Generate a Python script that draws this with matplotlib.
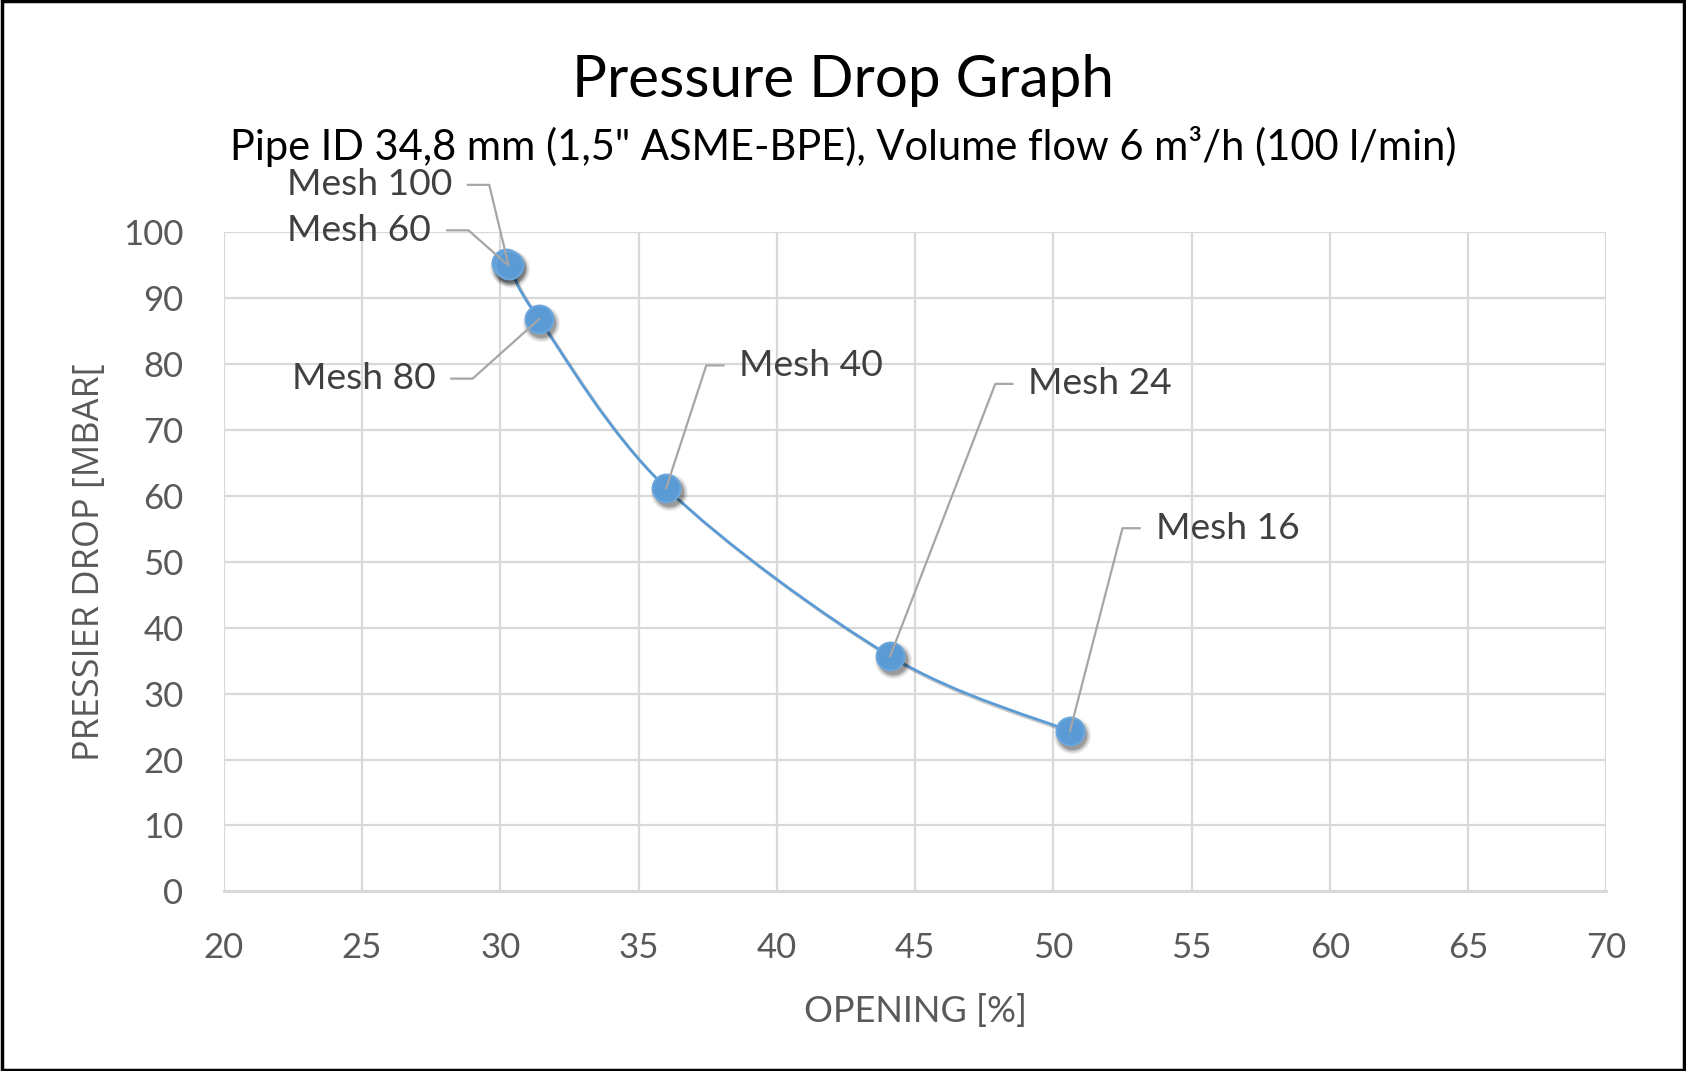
import matplotlib
matplotlib.use('Agg')
import matplotlib.pyplot as plt
import matplotlib.transforms as mtransforms
import matplotlib.patheffects as pe
from matplotlib.path import Path
from matplotlib.patches import PathPatch, Rectangle
from matplotlib.font_manager import FontProperties
import numpy as np

plt.rcParams['font.family'] = ['Lato', 'DejaVu Sans']

# data (sorted by opening)
labels = ['Mesh 60', 'Mesh 100', 'Mesh 80', 'Mesh 40', 'Mesh 24', 'Mesh 16']
opening = [30.2, 30.3, 31.4, 36.0, 44.1, 50.6]
pressure = [95.3, 95.0, 86.8, 61.2, 35.7, 24.3]

# label placement (data coords)
label_x = [27.5, 28.25, 27.65, 38.65, 49.1, 53.7]
label_y = [100.3, 107.2, 77.8, 79.8, 77.0, 55.1]
label_side = ['right', 'right', 'right', 'left', 'left', 'left']

blue = '#5B9BD5'
grey_txt = '#595959'
grid_c = '#D9D9D9'
leader_c = '#A6A6A6'

fig = plt.figure(figsize=(16.86, 10.71), dpi=100)
ax = fig.add_axes([0.1327, 0.1677, 0.9528 - 0.1327, 0.7831 - 0.1677])

ax.set_xlim(20, 70)
ax.set_ylim(0, 100)
ax.set_xticks(np.arange(20, 71, 5))
ax.set_yticks(np.arange(0, 101, 10))
ax.grid(True, color=grid_c, lw=1.6)
ax.set_axisbelow(True)
for s in ['top', 'right', 'left']:
    ax.spines[s].set_visible(False)
ax.spines['bottom'].set_color(grid_c)
ax.spines['bottom'].set_linewidth(2.2)
ax.tick_params(length=0, labelsize=25, colors=grey_txt)
ax.tick_params(axis='x', pad=29)
ax.tick_params(axis='y', pad=29)

# smoothed line (catmull-rom style bezier, like excel)
pts = np.column_stack([opening, pressure])
verts = [pts[0]]
codes = [Path.MOVETO]
n = len(pts)
for i in range(n - 1):
    p0 = pts[max(i - 1, 0)]
    p1 = pts[i]
    p2 = pts[i + 1]
    p3 = pts[min(i + 2, n - 1)]
    c1 = p1 + (p2 - p0) / 6.0
    c2 = p2 - (p3 - p1) / 6.0
    verts += [c1, c2, p2]
    codes += [Path.CURVE4] * 3
curve = PathPatch(Path(verts, codes), fill=False, edgecolor=blue, lw=2.0,
                  path_effects=[pe.SimpleLineShadow(offset=(2, -2), alpha=0.2), pe.Normal()])
ax.add_patch(curve)

# soft marker shadow: stacked translucent discs, offset down-right
shadow_tr = mtransforms.offset_copy(ax.transData, fig=fig, x=2.5, y=-4, units='dots')
for ms, a in [(27, 0.06), (25, 0.09), (23, 0.13), (21, 0.18)]:
    ax.plot(opening, pressure, 'o', ms=ms, color='black', alpha=a, mew=0,
            transform=shadow_tr, zorder=4)
ax.plot(opening, pressure, 'o', ms=20, color=blue, mec='#6AA6DC', mew=1.5, zorder=5)

# data labels with leader lines
for lab, x, y, lx, ly, side in zip(labels, opening, pressure, label_x, label_y, label_side):
    if side == 'right':
        x0, x1 = lx + 0.58, lx + 1.35
        ha = 'right'
    else:
        x0, x1 = lx - 0.58, lx - 1.2
        ha = 'left'
    ax.plot([x0, x1, x], [ly, ly, y], color=leader_c, lw=1.6, clip_on=False, zorder=6)
    ax.text(lx, ly, lab, ha=ha, va='center', fontsize=26.8, color='#404040', zorder=7)

ax.set_xlabel('OPENING [%]', fontsize=26, color=grey_txt, labelpad=22)
ax.set_ylabel('PRESSIER DROP [MBAR[', color=grey_txt, labelpad=11,
              fontproperties=FontProperties(family=['Open Sans', 'DejaVu Sans'], size=26))

fig.text(0.5, 0.925, 'Pressure Drop Graph', ha='center', va='center', fontsize=42, color='black')
fig.text(0.5, 0.863, 'Pipe ID 34,8 mm (1,5" ASME-BPE), Volume flow 6 m³/h (100 l/min)',
         ha='center', va='center', fontsize=30, color='black')

fig.patches.append(Rectangle((0.001, 0.001), 0.998, 0.998, transform=fig.transFigure,
                             fill=False, edgecolor='black', lw=2.5))

fig.savefig('out.png', dpi=100)
